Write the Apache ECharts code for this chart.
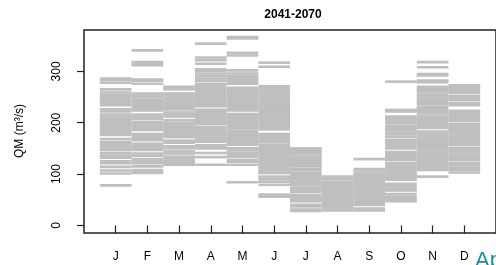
<!DOCTYPE html>
<html>
<head>
    <meta charset="UTF-8">
    <title></title>
    <script type="text/javascript" src="https://cdn.jsdelivr.net/npm/echarts@6/dist/echarts.min.js"></script>
</head>
<body style="margin:0">
<div id="main" style="width:496px;height:265px;"></div>
<script type="text/javascript">
    // month labels on x
    var months = ['J', 'F', 'M', 'A', 'M', 'J', 'J', 'A', 'S', 'O', 'N', 'D'];
    var yTicks = [0, 100, 200, 300];

    // QM values per month (one horizontal line per value)
    var qmJan = [286, 283, 278, 265, 259, 254, 250, 246, 242, 238, 234, 226, 222, 216, 212, 208, 204, 200, 196, 192, 188, 184, 180, 176, 168, 162, 158, 154, 150, 147, 141, 136, 132, 125, 121, 114, 107, 101, 78];
    var qmFeb = [341, 318, 315, 312, 284, 282, 276, 257, 253, 250, 245, 240, 236, 232, 228, 224, 216, 212, 208, 202, 198, 194, 190, 186, 178, 174, 170, 166, 159, 155, 151, 147, 140, 136, 129, 125, 121, 115, 108, 104, 102];
    var qmMar = [270, 265, 257, 253, 249, 245, 241, 237, 233, 229, 226, 220, 216, 212, 205, 200, 196, 192, 188, 184, 180, 176, 172, 165, 161, 154, 150, 144, 140, 134, 130, 125, 121, 118];
    var qmApr = [354, 327, 322, 315, 304, 301, 296, 291, 286, 282, 276, 272, 268, 264, 260, 256, 252, 248, 244, 240, 236, 232, 225, 221, 217, 213, 209, 205, 201, 197, 191, 187, 183, 179, 175, 171, 167, 163, 156, 152, 150, 141, 133, 118];
    var qmMay = [367, 364, 336, 331, 302, 296, 291, 287, 283, 279, 276, 268, 264, 260, 256, 252, 248, 244, 240, 236, 232, 228, 224, 217, 213, 209, 205, 201, 197, 193, 189, 184, 180, 176, 172, 168, 164, 160, 157, 150, 146, 141, 137, 134, 128, 124, 118, 84];
    var qmJun = [317, 309, 271, 267, 263, 259, 255, 251, 247, 243, 239, 235, 231, 227, 223, 219, 215, 211, 207, 203, 199, 195, 191, 187, 178, 174, 170, 166, 162, 157, 153, 149, 145, 141, 137, 133, 129, 125, 121, 117, 113, 109, 105, 102, 95, 90, 85, 79, 60, 56];
    var qmJul = [150, 147, 143, 139, 134, 130, 126, 122, 118, 115, 110, 107, 102, 98, 94, 90, 86, 82, 78, 73, 69, 65, 59, 55, 51, 47, 40, 37, 31, 28];
    var qmAug = [95, 90, 85, 81, 77, 73, 69, 65, 61, 57, 53, 49, 45, 41, 37, 33, 29];
    var qmSep = [129, 110, 105, 100, 96, 92, 88, 84, 80, 76, 72, 68, 64, 60, 56, 52, 48, 44, 40, 33, 29];
    var qmOct = [280, 225, 222, 212, 208, 204, 199, 194, 190, 186, 181, 177, 172, 166, 162, 158, 154, 150, 143, 139, 135, 131, 127, 121, 117, 113, 109, 105, 101, 97, 93, 89, 81, 77, 72, 68, 61, 56, 51, 47];
    var qmNov = [318, 308, 295, 292, 282, 279, 270, 266, 262, 257, 253, 249, 245, 240, 236, 231, 227, 223, 219, 214, 210, 206, 202, 198, 194, 190, 183, 179, 175, 171, 167, 163, 159, 154, 150, 146, 142, 138, 134, 130, 126, 122, 118, 115, 111, 108, 95];
    var qmDec = [273, 270, 266, 262, 258, 252, 248, 244, 238, 234, 223, 219, 215, 211, 207, 203, 197, 193, 189, 185, 181, 177, 173, 169, 165, 161, 157, 151, 147, 143, 138, 134, 130, 127, 121, 117, 112, 108, 103];

    var allMonths = [qmJan, qmFeb, qmMar, qmApr, qmMay, qmJun, qmJul, qmAug, qmSep, qmOct, qmNov, qmDec];

    // [month position, value]
    var segData = [];
    allMonths.forEach(function (vals, i) {
        vals.forEach(function (v) { segData.push([i + 1, v]); });
    });

    var myChart = echarts.init(document.getElementById('main'));
    var option = {
        animation: false,
        grid: {
            left: 84, right: -6, top: 30, bottom: 32,
            show: true, borderColor: '#222', borderWidth: 1.5, backgroundColor: 'transparent'
        },
        xAxis: {
            type: 'value', min: 0, max: 13,
            axisLine: {show: false},
            splitLine: {show: false},
            axisTick: {show: true, length: 8, customValues: [1, 2, 3, 4, 5, 6, 7, 8, 9, 10, 11, 12],
                lineStyle: {color: '#222', width: 1.2}},
            axisLabel: {
                customValues: [1, 2, 3, 4, 5, 6, 7, 8, 9, 10, 11, 12],
                margin: 18, color: '#000', fontSize: 12, fontFamily: 'Liberation Sans',
                formatter: function (v) { return months[v - 1] || ''; }
            }
        },
        yAxis: {
            type: 'value', min: -14.8, max: 380.6,
            axisLine: {show: false},
            splitLine: {show: false},
            axisTick: {show: true, length: 7, customValues: yTicks, lineStyle: {color: '#222', width: 1.2}},
            axisLabel: {
                customValues: yTicks, rotate: 90, margin: 21,
                color: '#000', fontSize: 12, fontFamily: 'Liberation Sans'
            }
        },
        graphic: [
            {type: 'text', x: 293, y: 15, style: {text: '2041-2070', fill: '#000', font: 'bold 12px "Liberation Sans"', textAlign: 'center', textVerticalAlign: 'middle'}},
            {type: 'text', x: 20, y: 131, rotation: Math.PI / 2, style: {text: 'QM (m³/s)', fill: '#000', font: '12px "Liberation Sans"', textAlign: 'center', textVerticalAlign: 'middle'}},
            {type: 'text', x: 475, y: 250, style: {text: 'Ap', fill: '#1b8ca3', font: '22px "Liberation Sans"', textAlign: 'left', textVerticalAlign: 'top'}}
        ],
        series: [{
            type: 'custom',
            data: segData,
            renderItem: function (params, api) {
                var m = api.value(0), v = api.value(1);
                var a = api.coord([m - 0.5, v]);
                var b = api.coord([m + 0.5, v]);
                return {
                    type: 'line',
                    shape: {x1: a[0], y1: a[1], x2: b[0], y2: b[1]},
                    style: {stroke: '#bfbfbf', lineWidth: 2.6}
                };
            }
        }]
    };
    myChart.setOption(option);
</script>
</body>
</html>
